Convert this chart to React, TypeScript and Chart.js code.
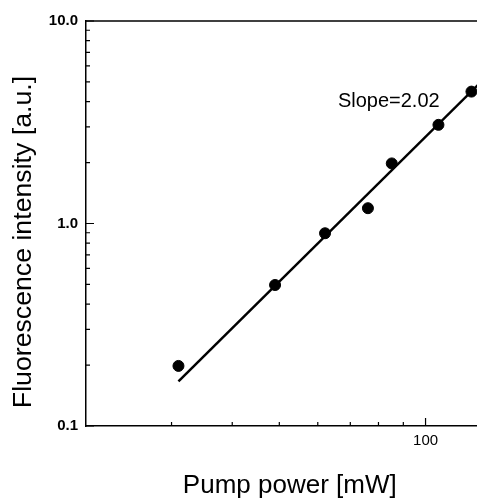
import React, { useEffect, useRef } from 'react';
import { Chart, registerables } from 'chart.js';

Chart.register(...registerables);

// Measured data
const pumpPower = [31.0, 49.0, 62.1, 76.1, 85.2, 106.3, 124.3];
const intensity = [0.198, 0.497, 0.895, 1.19, 1.98, 3.07, 4.48];

// Fitted line (slope 2.02 fit as drawn)
const fitPower = [31.0, 138];
const fitIntensity = [0.166, 5.76];

// Axis ticks
const xMajorTicks = [100];
const xMajorLabels = ['100'];
const xMinorTicks = [30, 40, 50, 60, 70, 80, 90];
const yMajorTicks = [0.1, 1, 10];
const yMajorLabels = ['0.1', '1.0', '10.0'];
const yMinorTicks = [0.2, 0.3, 0.4, 0.5, 0.6, 0.7, 0.8, 0.9, 2, 3, 4, 5, 6, 7, 8, 9];

const xTitle = 'Pump power [mW]';
const yTitle = 'Fluorescence intensity [a.u.]';
const slopeText = 'Slope=2.02';
const slopeTextPower = 84;
const slopeTextIntensity = 4.0;

const FONT = '"Liberation Sans", Arial, Helvetica, sans-serif';

function labelFor(value: number, ticks: number[], labels: string[]): string {
  for (let i = 0; i < ticks.length; i++) {
    if (Math.abs(value - ticks[i]) < ticks[i] * 1e-6) return labels[i];
  }
  return '';
}

const inwardTicks = {
  id: 'inwardTicks',
  afterDraw(chart: any) {
    const { ctx, chartArea, scales } = chart;
    const xs = scales.x;
    const ys = scales.y;
    ctx.save();
    ctx.strokeStyle = '#000';
    ctx.lineWidth = 1.2;
    ctx.beginPath();
    // x ticks (upward from bottom axis)
    xMajorTicks.forEach((v) => {
      const px = xs.getPixelForValue(v);
      ctx.moveTo(px, chartArea.bottom);
      ctx.lineTo(px, chartArea.bottom - 8);
    });
    xMinorTicks.forEach((v) => {
      const px = xs.getPixelForValue(v);
      ctx.moveTo(px, chartArea.bottom);
      ctx.lineTo(px, chartArea.bottom - 4);
    });
    // y ticks (rightward from left axis)
    yMajorTicks.forEach((v) => {
      const py = ys.getPixelForValue(v);
      ctx.moveTo(chartArea.left, py);
      ctx.lineTo(chartArea.left + 8, py);
    });
    yMinorTicks.forEach((v) => {
      const py = ys.getPixelForValue(v);
      ctx.moveTo(chartArea.left, py);
      ctx.lineTo(chartArea.left + 4, py);
    });
    ctx.stroke();
    // top frame line
    ctx.lineWidth = 1.5;
    ctx.beginPath();
    ctx.moveTo(chartArea.left, chartArea.top);
    ctx.lineTo(chartArea.right, chartArea.top);
    ctx.stroke();
    // slope annotation
    ctx.fillStyle = '#000';
    ctx.font = `20px ${FONT}`;
    ctx.textAlign = 'center';
    ctx.textBaseline = 'middle';
    ctx.fillText(slopeText, xs.getPixelForValue(slopeTextPower), ys.getPixelForValue(slopeTextIntensity));
    ctx.restore();
  },
};

export default function App() {
  const canvasRef = useRef<HTMLCanvasElement>(null);

  useEffect(() => {
    if (!canvasRef.current) return;
    const chart = new Chart(canvasRef.current, {
      type: 'scatter',
      data: {
        datasets: [
          {
            type: 'line',
            label: 'fit',
            data: fitPower.map((x, i) => ({ x, y: fitIntensity[i] })),
            borderColor: '#000',
            borderWidth: 2.5,
            pointRadius: 0,
            fill: false,
          },
          {
            type: 'scatter',
            label: 'data',
            data: pumpPower.map((x, i) => ({ x, y: intensity[i] })),
            backgroundColor: '#000',
            borderColor: '#000',
            pointRadius: 5.5,
            pointHoverRadius: 5.5,
          },
        ],
      } as any,
      options: {
        responsive: false,
        animation: false,
        devicePixelRatio: 1,
        layout: { padding: { top: 21, right: 4, left: 0, bottom: 0 } },
        plugins: {
          legend: { display: false },
          tooltip: { enabled: false },
        },
        scales: {
          x: {
            type: 'logarithmic',
            min: 20,
            max: 138,
            bounds: 'data',
            grid: { display: false, drawTicks: false },
            border: { display: true, color: '#000', width: 1.5 },
            afterBuildTicks: (scale: any) => {
              scale.ticks = [...xMajorTicks, ...xMinorTicks].map((v) => ({ value: v }));
            },
            afterFit: (scale: any) => {
              scale.height = 73;
            },
            ticks: {
              autoSkip: false,
              maxRotation: 0,
              padding: 6,
              color: '#000',
              font: { family: FONT, size: 15 },
              callback: (value: any) => labelFor(Number(value), xMajorTicks, xMajorLabels),
            },
            title: {
              display: true,
              text: xTitle,
              color: '#000',
              font: { family: FONT, size: 26, lineHeight: 1 },
              padding: { top: 0, bottom: 0 },
            },
          },
          y: {
            type: 'logarithmic',
            min: 0.1,
            max: 10,
            bounds: 'data',
            grid: { display: false, drawTicks: false },
            border: { display: true, color: '#000', width: 1.5 },
            afterBuildTicks: (scale: any) => {
              scale.ticks = [...yMajorTicks, ...yMinorTicks].map((v) => ({ value: v }));
            },
            afterFit: (scale: any) => {
              scale.width = 86;
            },
            ticks: {
              autoSkip: false,
              padding: 8,
              color: '#000',
              font: { family: FONT, size: 15, weight: 'bold' },
              callback: (value: any) => labelFor(Number(value), yMajorTicks, yMajorLabels),
            },
            title: {
              display: true,
              text: yTitle + '     ',
              color: '#000',
              font: { family: FONT, size: 26.7 },
              padding: { top: 8, bottom: 0 },
            },
          },
        },
      } as any,
      plugins: [inwardTicks],
    });
    return () => chart.destroy();
  }, []);

  return (
    <div
      style={{
        position: 'fixed',
        left: 0,
        top: 0,
        width: 477,
        height: 499,
        overflow: 'hidden',
        background: '#fff',
      }}
    >
      <canvas ref={canvasRef} width={500} height={499} style={{ display: 'block' }} />
    </div>
  );
}
